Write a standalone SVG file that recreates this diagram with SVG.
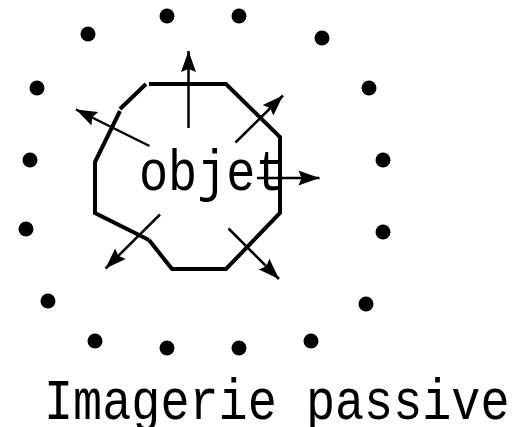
<svg xmlns="http://www.w3.org/2000/svg" width="516" height="427" viewBox="0 0 516 427">
<style>
.dot{fill:#000}
.oct{fill:none;stroke:#000;stroke-width:4;stroke-linecap:butt;stroke-linejoin:miter}
.arr{fill:none;stroke:#000;stroke-width:2.5;marker-end:url(#ah)}
.lbl{font-family:"Liberation Mono","DejaVu Sans Mono",monospace;font-size:48.5px;fill:#000}
</style>
<defs>
<marker id="ah" markerUnits="userSpaceOnUse" viewBox="-22 -9 24 18" refX="0" refY="0" markerWidth="24" markerHeight="18" orient="auto">
<path d="M0,0 L-21,-7.5 L-18,0 L-21,7.5 Z" fill="#000"/>
</marker>
</defs>
<g id="dots">
<circle class="dot" cx="167" cy="16" r="7.5"/>
<circle class="dot" cx="239" cy="16" r="7.5"/>
<circle class="dot" cx="88" cy="34" r="7.5"/>
<circle class="dot" cx="322" cy="38" r="7.5"/>
<circle class="dot" cx="37" cy="88" r="7.5"/>
<circle class="dot" cx="369" cy="88" r="7.5"/>
<circle class="dot" cx="30" cy="160" r="7.5"/>
<circle class="dot" cx="383" cy="160" r="7.5"/>
<circle class="dot" cx="26" cy="229" r="7.5"/>
<circle class="dot" cx="383" cy="232" r="7.5"/>
<circle class="dot" cx="48" cy="301" r="7.5"/>
<circle class="dot" cx="366" cy="304" r="7.5"/>
<circle class="dot" cx="95" cy="341" r="7.5"/>
<circle class="dot" cx="311" cy="341" r="7.5"/>
<circle class="dot" cx="167" cy="348" r="7.5"/>
<circle class="dot" cx="239" cy="348" r="7.5"/>
</g>
<g id="objet">
<polyline class="oct" points="149,84 226,84 280,137 280,213 226,269 172,269 149,240"/>
<polyline class="oct" points="149,240 95,213 95,162 120,111"/>
<polyline class="oct" points="120,109 146,84"/>
<text class="lbl" transform="translate(139,190) scale(1,1.18)">objet</text>
</g>
<g id="connectors">
<line class="arr" x1="188.5" y1="128" x2="188.5" y2="51"/>
<line class="arr" x1="149.5" y1="146" x2="76" y2="109.5"/>
<line class="arr" x1="235.5" y1="142.5" x2="283" y2="95.5"/>
<line class="arr" x1="257" y1="178" x2="319.5" y2="178"/>
<line class="arr" x1="160" y1="214.5" x2="105.5" y2="268.5"/>
<line class="arr" x1="228.5" y1="228.5" x2="279" y2="279"/>
</g>
<text class="lbl" transform="translate(44,419) scale(1,1.18)">Imagerie passive</text>
</svg>
